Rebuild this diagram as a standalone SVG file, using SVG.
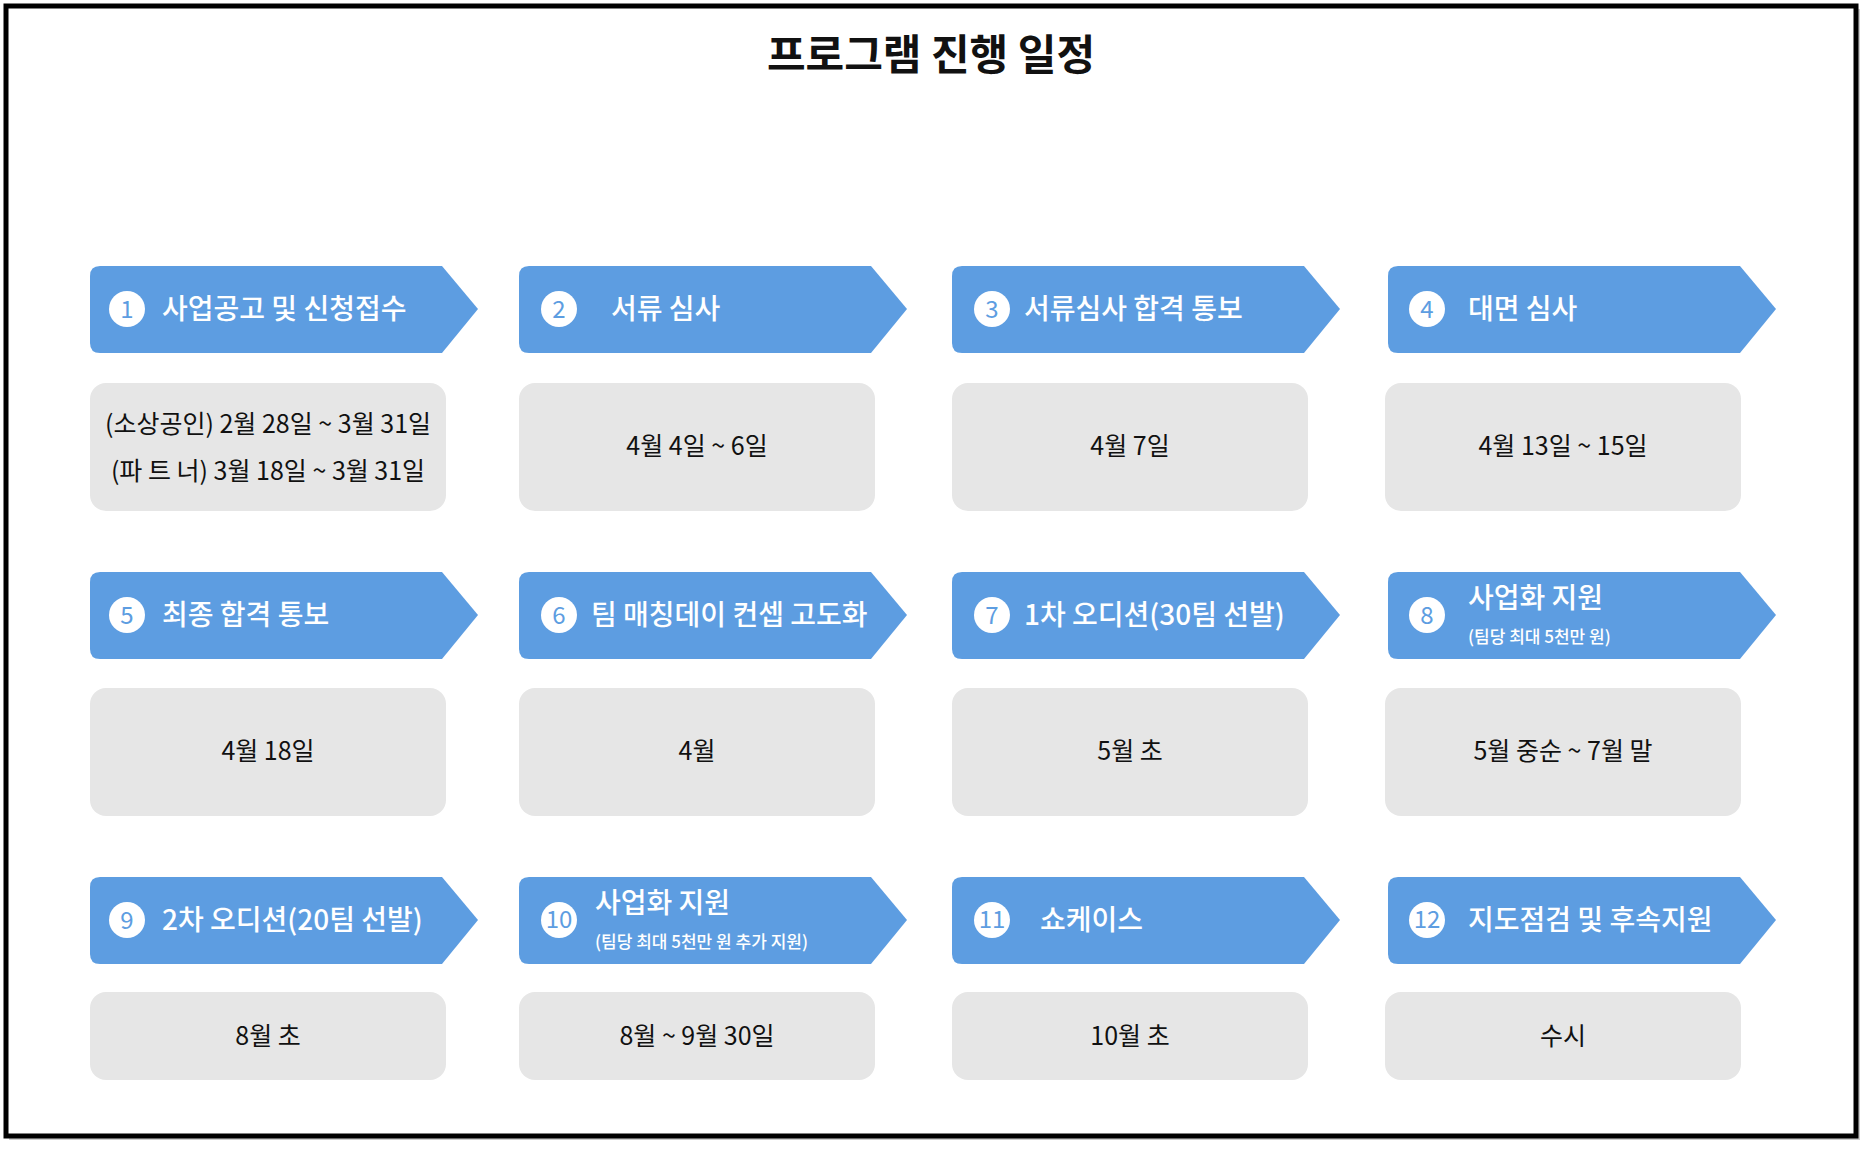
<svg xmlns="http://www.w3.org/2000/svg" width="1872" height="1149" viewBox="0 0 1872 1149">
<style>
text{font-family:"Noto Sans CJK KR","Noto Sans",sans-serif}
.hd{fill:#5d9de1}
.bx{fill:#e6e6e6}
.ht{fill:#fff;font-size:28px;font-weight:500}
.hs{fill:#fff;font-size:17px;font-weight:500}
.num{fill:#5d9de1;font-size:24px;text-anchor:middle}
.bt{fill:#111;font-size:25px;text-anchor:middle}
</style>
<defs>
<path id="arrow" d="M10 0 H352 L388 43 L352 87 H10 Q0 87 0 77 V10 Q0 0 10 0Z"/>
</defs>
<rect x="0" y="0" width="1872" height="1149" fill="#fff"/>
<rect x="9" y="9" width="1851" height="1131" fill="#9a9a9a" opacity="0.5"/>
<rect x="6" y="6" width="1850" height="1130" fill="#fff" stroke="#000" stroke-width="5"/>
<text x="931" y="70" text-anchor="middle" font-size="42" font-weight="700" fill="#111">프로그램 진행 일정</text>
<g id="connectors"></g>
<g id="n1" transform="translate(90,266)"><use href="#arrow" class="hd"/><circle cx="37" cy="43" r="18" fill="#fff"/><text class="num" x="37" y="52">1</text><text class="ht" x="72" y="53">사업공고 및 신청접수</text></g>
<g id="n2" transform="translate(519,266)"><use href="#arrow" class="hd"/><circle cx="40" cy="43" r="18" fill="#fff"/><text class="num" x="40" y="52">2</text><text class="ht" x="92" y="53">서류 심사</text></g>
<g id="n3" transform="translate(952,266)"><use href="#arrow" class="hd"/><circle cx="40" cy="43" r="18" fill="#fff"/><text class="num" x="40" y="52">3</text><text class="ht" x="72" y="53">서류심사 합격 통보</text></g>
<g id="n4" transform="translate(1388,266)"><use href="#arrow" class="hd"/><circle cx="39" cy="43" r="18" fill="#fff"/><text class="num" x="39" y="52">4</text><text class="ht" x="80" y="53">대면 심사</text></g>
<g id="n5" transform="translate(90,572)"><use href="#arrow" class="hd"/><circle cx="37" cy="43" r="18" fill="#fff"/><text class="num" x="37" y="52">5</text><text class="ht" x="72" y="53">최종 합격 통보</text></g>
<g id="n6" transform="translate(519,572)"><use href="#arrow" class="hd"/><circle cx="40" cy="43" r="18" fill="#fff"/><text class="num" x="40" y="52">6</text><text class="ht" x="72" y="53">팀 매칭데이 컨셉 고도화</text></g>
<g id="n7" transform="translate(952,572)"><use href="#arrow" class="hd"/><circle cx="40" cy="43" r="18" fill="#fff"/><text class="num" x="40" y="52">7</text><text class="ht" x="72" y="53">1차 오디션(30팀 선발)</text></g>
<g id="n8" transform="translate(1388,572)"><use href="#arrow" class="hd"/><circle cx="39" cy="43" r="18" fill="#fff"/><text class="num" x="39" y="52">8</text><text class="ht" x="80" y="36">사업화 지원</text><text class="hs" x="80" y="71">(팀당 최대 5천만 원)</text></g>
<g id="n9" transform="translate(90,877)"><use href="#arrow" class="hd"/><circle cx="37" cy="43" r="18" fill="#fff"/><text class="num" x="37" y="52">9</text><text class="ht" x="72" y="53">2차 오디션(20팀 선발)</text></g>
<g id="n10" transform="translate(519,877)"><use href="#arrow" class="hd"/><circle cx="40" cy="43" r="18" fill="#fff"/><text class="num" x="40" y="51" font-size="21">10</text><text class="ht" x="76" y="36">사업화 지원</text><text class="hs" x="76" y="71">(팀당 최대 5천만 원 추가 지원)</text></g>
<g id="n11" transform="translate(952,877)"><use href="#arrow" class="hd"/><circle cx="40" cy="43" r="18" fill="#fff"/><text class="num" x="40" y="51" font-size="21">11</text><text class="ht" x="88" y="53">쇼케이스</text></g>
<g id="n12" transform="translate(1388,877)"><use href="#arrow" class="hd"/><circle cx="39" cy="43" r="18" fill="#fff"/><text class="num" x="39" y="51" font-size="21">12</text><text class="ht" x="80" y="53">지도점검 및 후속지원</text></g>
<g id="d1"><rect class="bx" x="90" y="383" width="356" height="128" rx="16"/><text class="bt" x="268" y="433">(소상공인) 2월 28일 ~ 3월 31일</text><text class="bt" x="268" y="480">(파  트  너) 3월 18일 ~ 3월 31일</text></g>
<g id="d2"><rect class="bx" x="519" y="383" width="356" height="128" rx="16"/><text class="bt" x="697" y="455">4월 4일 ~ 6일</text></g>
<g id="d3"><rect class="bx" x="952" y="383" width="356" height="128" rx="16"/><text class="bt" x="1130" y="455">4월 7일</text></g>
<g id="d4"><rect class="bx" x="1385" y="383" width="356" height="128" rx="16"/><text class="bt" x="1563" y="455">4월 13일 ~ 15일</text></g>
<g id="d5"><rect class="bx" x="90" y="688" width="356" height="128" rx="16"/><text class="bt" x="268" y="760">4월 18일</text></g>
<g id="d6"><rect class="bx" x="519" y="688" width="356" height="128" rx="16"/><text class="bt" x="697" y="760">4월</text></g>
<g id="d7"><rect class="bx" x="952" y="688" width="356" height="128" rx="16"/><text class="bt" x="1130" y="760">5월 초</text></g>
<g id="d8"><rect class="bx" x="1385" y="688" width="356" height="128" rx="16"/><text class="bt" x="1563" y="760">5월 중순 ~ 7월 말</text></g>
<g id="d9"><rect class="bx" x="90" y="992" width="356" height="88" rx="16"/><text class="bt" x="268" y="1045">8월 초</text></g>
<g id="d10"><rect class="bx" x="519" y="992" width="356" height="88" rx="16"/><text class="bt" x="697" y="1045">8월 ~ 9월 30일</text></g>
<g id="d11"><rect class="bx" x="952" y="992" width="356" height="88" rx="16"/><text class="bt" x="1130" y="1045">10월 초</text></g>
<g id="d12"><rect class="bx" x="1385" y="992" width="356" height="88" rx="16"/><text class="bt" x="1563" y="1045">수시</text></g>
</svg>
